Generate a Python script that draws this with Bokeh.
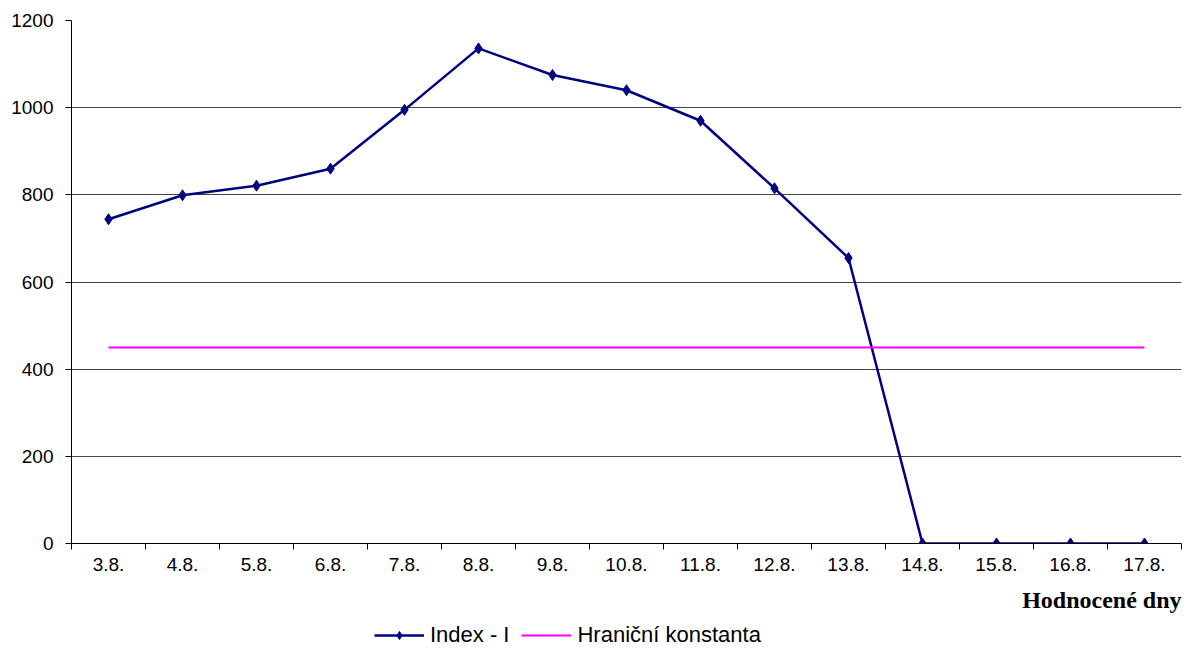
from bokeh.plotting import figure
from bokeh.layouts import column
from bokeh.models import Range1d, FixedTicker, Legend, LegendItem, Title
from bokeh.embed import file_html
from bokeh.resources import INLINE

days = ["3.8.", "4.8.", "5.8.", "6.8.", "7.8.", "8.8.", "9.8.", "10.8.",
        "11.8.", "12.8.", "13.8.", "14.8.", "15.8.", "16.8.", "17.8."]
index_i = [744, 799, 821, 860, 995, 1136, 1075, 1040, 970, 815, 655, 0, 0, 0, 0]
hranicni = [450] * len(days)
y_ticks = [0, 200, 400, 600, 800, 1000, 1200]

NAVY = "#000080"
MAGENTA = "#FF00FF"

xs = list(range(len(days)))

p = figure(width=1184, height=624, output_backend="svg", toolbar_location=None,
           x_range=Range1d(-0.5, len(days) - 0.5), y_range=Range1d(0, 1200),
           min_border_left=71, min_border_right=3, min_border_top=20,
           min_border_bottom=81)
p.outline_line_color = None
p.background_fill_color = "white"

p.line(xs, index_i, line_color=NAVY, line_width=2.5)
p.scatter(xs, index_i, marker="diamond", size=11, fill_color=NAVY, line_color=NAVY)
p.line(xs, hranicni, line_color=MAGENTA, line_width=2)

# x axis
p.xaxis.ticker = FixedTicker(ticks=xs, minor_ticks=[i - 0.5 for i in range(len(days) + 1)])
p.xaxis.major_label_overrides = {i: d for i, d in enumerate(days)}
p.xaxis.major_tick_out = 0
p.xaxis.major_tick_in = 0
p.xaxis.minor_tick_out = 6
p.xaxis.minor_tick_in = 0
p.xaxis.minor_tick_line_color = "black"
p.xaxis.axis_line_color = "black"
p.xaxis.major_label_text_font = "Liberation Sans"
p.xaxis.major_label_text_font_size = "19px"
p.xaxis.major_label_text_color = "black"
p.xaxis.major_label_standoff = 8

# y axis
p.yaxis.ticker = FixedTicker(ticks=y_ticks)
p.yaxis.minor_tick_line_color = None
p.yaxis.major_tick_out = 6
p.yaxis.major_tick_in = 0
p.yaxis.major_tick_line_color = "black"
p.yaxis.axis_line_color = "black"
p.yaxis.major_label_text_font = "Liberation Sans"
p.yaxis.major_label_text_font_size = "19px"
p.yaxis.major_label_text_color = "black"
p.yaxis.major_label_standoff = 12

p.xgrid.visible = False
p.ygrid.ticker = FixedTicker(ticks=y_ticks)
p.ygrid.grid_line_color = "#444444"
p.ygrid.grid_line_width = 1

# x axis title
title = Title(text="Hodnocené dny", align="right", text_font="Liberation Serif",
              text_font_style="bold", text_font_size="24px", text_color="black",
              offset=0, standoff=23)
p.add_layout(title, "below")

# legend strip (same series, drawn outside its visible ranges; only the legend shows)
lg = figure(width=1184, height=24, output_backend="svg", toolbar_location=None,
            x_range=Range1d(100, 101), y_range=Range1d(5000, 5001),
            min_border_left=0, min_border_right=0, min_border_top=0, min_border_bottom=0)
lg.axis.visible = False
lg.grid.visible = False
lg.outline_line_color = None
r1 = lg.line(xs, index_i, line_color=NAVY, line_width=2.5)
r2 = lg.scatter(xs, index_i, marker="diamond", size=10, fill_color=NAVY, line_color=NAVY)
r3 = lg.line(xs, hranicni, line_color=MAGENTA, line_width=2)

legend = Legend(items=[
    LegendItem(label="Index - I", renderers=[r1, r2]),
    LegendItem(label="Hraniční konstanta", renderers=[r3]),
], orientation="horizontal", location=(303, 0))
legend.label_text_font = "Liberation Sans"
legend.label_text_font_size = "22px"
legend.label_text_color = "black"
legend.glyph_width = 50
legend.label_standoff = 6
legend.spacing = 12
legend.border_line_color = None
legend.background_fill_alpha = 0
legend.margin = 0
legend.padding = 0
lg.add_layout(legend)

layout = column(p, lg, spacing=0)
open("out.html", "w").write(file_html(layout, INLINE))
